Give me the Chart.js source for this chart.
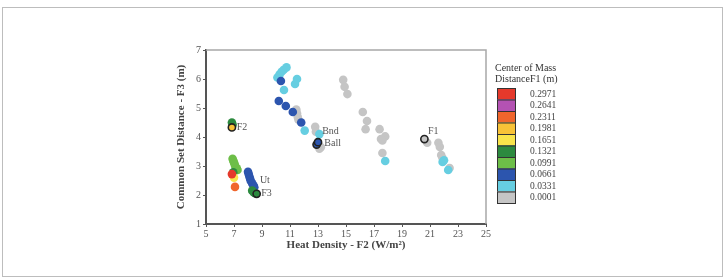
<!DOCTYPE html>
<html>
<head>
<meta charset="utf-8">
<script src="https://cdn.jsdelivr.net/npm/chart.js@4/dist/chart.umd.min.js"></script>
<style>
    html, body { margin: 0; padding: 0; background: #fff; }
    #frame { position: absolute; left: 2px; top: 7px; width: 719px; height: 268px; border: 1px solid #bdbdbd; }
    #wrap { position: absolute; left: 0; top: 0; width: 726px; height: 279px; }
</style>
</head>
<body>
<div id="frame"></div>
<div id="wrap"><canvas id="grafico" width="726" height="279"></canvas></div>
<script>
(function () {
    // Valori della legenda (dall'alto verso il basso) e colori
    const legendaValori = ['0.2971', '0.2641', '0.2311', '0.1981', '0.1651', '0.1321', '0.0991', '0.0661', '0.0331', '0.0001'];
    const legendaColori = ['#e5392b', '#b452b3', '#f0652c', '#f8c237', '#f9e44b', '#2c8a3f', '#6dbe48', '#2c55ae', '#66cee1', '#c5c5c5'];

    // Punti per classe di colore [x, y]
    const puntiRosso = [[6.85, 2.72]];
    const puntiViola = [];
    const puntiArancio = [[7.07, 2.28]];
    const puntiOro = [];
    const puntiGiallo = [[7.0, 2.6]];
    const puntiVerdeScuro = [[6.85, 4.5], [6.9, 4.42], [6.95, 2.78], [8.3, 2.15], [8.4, 2.1], [8.5, 2.06]];
    const puntiVerde = [[6.9, 3.25], [6.95, 3.18], [7.0, 3.12], [7.05, 3.05], [7.1, 2.98], [7.2, 2.92], [7.25, 2.86]];
    const puntiBlu = [[10.35, 5.93], [10.2, 5.24], [10.7, 5.07], [11.2, 4.86], [11.8, 4.5],
        [8.0, 2.8], [8.05, 2.72], [8.1, 2.64], [8.15, 2.56], [8.2, 2.48], [8.3, 2.4], [8.4, 2.33], [8.45, 2.27]];
    const puntiCiano = [[10.1, 6.05], [10.25, 6.15], [10.4, 6.25], [10.55, 6.32], [10.75, 6.4], [10.57, 5.62],
        [11.5, 6.0], [11.36, 5.83], [12.05, 4.22], [13.1, 4.1], [17.8, 3.17], [21.9, 3.14], [22.0, 3.2], [22.3, 2.86]];
    const puntiGrigio = [[11.45, 4.95], [11.5, 4.82], [11.55, 4.7], [11.6, 4.6], [12.8, 4.35], [12.85, 4.18],
        [13.1, 3.6], [13.2, 3.65], [14.8, 5.97], [14.9, 5.73], [15.1, 5.48], [16.2, 4.86], [16.5, 4.55], [16.4, 4.27],
        [17.4, 4.27], [17.5, 3.93], [17.8, 4.02], [17.6, 3.88], [17.6, 3.45], [20.8, 3.8], [21.6, 3.8], [21.7, 3.66],
        [21.8, 3.38], [21.9, 3.27], [22.4, 2.93]];

    // Punti evidenziati con contorno scuro: [x, y, indice colore legenda]
    const puntiMarcati = [[6.85, 4.33, 3], [8.62, 2.04, 5], [12.9, 3.74, 7], [13.0, 3.82, 7], [20.6, 3.93, 9]];

    // Etichette testuali [testo, x, y]
    const etichette = [['F2', 7.2, 4.33], ['Ut', 8.85, 2.5], ['F3', 8.95, 2.05], ['Bnd', 13.3, 4.2], ['Ball', 13.45, 3.78], ['F1', 20.85, 4.18]];

    const xTicks = [5, 7, 9, 11, 13, 15, 17, 19, 21, 23, 25];
    const yTicks = [1, 2, 3, 4, 5, 6, 7];

    const font = "'Liberation Serif', 'DejaVu Serif', serif";
    const gruppi = [puntiRosso, puntiViola, puntiArancio, puntiOro, puntiGiallo, puntiVerdeScuro, puntiVerde, puntiBlu, puntiCiano, puntiGrigio];

    // disegna dal grigio al rosso così i colori caldi stanno sopra
    const datasets = gruppi.map((pts, i) => ({
        label: legendaValori[i],
        data: pts.map(p => ({ x: p[0], y: p[1] })),
        backgroundColor: legendaColori[i],
        borderColor: legendaColori[i],
        pointRadius: 4.3,
        pointBorderWidth: 0,
        order: i
    }));
    datasets.push({
        label: 'marcati',
        data: puntiMarcati.map(p => ({ x: p[0], y: p[1] })),
        backgroundColor: puntiMarcati.map(p => legendaColori[p[2]]),
        borderColor: '#222',
        pointRadius: 3.6,
        pointBorderWidth: 1.6,
        order: -1
    });

    const pluginCornice = {
        id: 'cornice',
        beforeDatasetsDraw(chart) {
            const { ctx, chartArea: a } = chart;
            ctx.save();
            ctx.strokeStyle = '#a8a8a8';
            ctx.lineWidth = 1.5;
            ctx.beginPath();
            ctx.moveTo(a.left, a.top);
            ctx.lineTo(a.right, a.top);
            ctx.lineTo(a.right, a.bottom);
            ctx.stroke();
            ctx.restore();
        },
        afterDatasetsDraw(chart) {
            const { ctx, scales } = chart;
            ctx.save();
            ctx.font = '10px ' + font;
            ctx.fillStyle = '#555';
            ctx.textBaseline = 'middle';
            ctx.textAlign = 'left';
            etichette.forEach(e => {
                ctx.fillText(e[0], scales.x.getPixelForValue(e[1]), scales.y.getPixelForValue(e[2]));
            });

            // legenda a destra
            const lx = 497, ly = 88, bw = 18, bh = 11.5;
            ctx.fillStyle = '#333';
            ctx.textAlign = 'left';
            ctx.font = '10px ' + font;
            ctx.fillText('Center of Mass', 495, 68);
            ctx.fillText('DistanceF1 (m)', 495, 79);
            legendaValori.forEach((v, i) => {
                ctx.fillStyle = legendaColori[i];
                ctx.fillRect(lx, ly + i * bh, bw, bh);
                ctx.strokeStyle = '#333';
                ctx.lineWidth = 1;
                ctx.strokeRect(lx + 0.5, ly + i * bh + 0.5, bw, bh);
                ctx.fillStyle = '#444';
                ctx.font = '9.5px ' + font;
                ctx.fillText(v, 530, ly + i * bh + bh / 2 + 0.5);
            });
            ctx.restore();
        }
    };

    new Chart(document.getElementById('grafico'), {
        type: 'scatter',
        data: { datasets },
        plugins: [pluginCornice],
        options: {
            responsive: false,
            animation: false,
            events: [],
            layout: { padding: { left: 175, right: 240, top: 50, bottom: 23 } },
            plugins: { legend: { display: false }, tooltip: { enabled: false } },
            scales: {
                x: {
                    type: 'linear', min: 5, max: 25,
                    afterBuildTicks: s => { s.ticks = xTicks.map(v => ({ value: v })); },
                    afterFit: s => { s.height = 32; },
                    border: { color: '#555', width: 2 },
                    grid: { drawOnChartArea: false, color: '#555', tickLength: 3 },
                    ticks: { color: '#555', font: { family: font, size: 10 }, padding: 1 },
                    title: { display: true, text: 'Heat Density - F2 (W/m²)', color: '#444', font: { family: font, size: 11, weight: 'bold' }, padding: { top: 0 } }
                },
                y: {
                    type: 'linear', min: 1, max: 7,
                    afterBuildTicks: s => { s.ticks = yTicks.map(v => ({ value: v })); },
                    afterFit: s => { s.width = 31; },
                    border: { color: '#555', width: 2 },
                    grid: { drawOnChartArea: false, color: '#555', tickLength: 3 },
                    ticks: { color: '#555', font: { family: font, size: 10 }, padding: 2 },
                    title: { display: true, text: 'Common Set Distance - F3 (m)', color: '#444', font: { family: font, size: 11, weight: 'bold' }, padding: 0 }
                }
            }
        }
    });
})();
</script>
</body>
</html>
